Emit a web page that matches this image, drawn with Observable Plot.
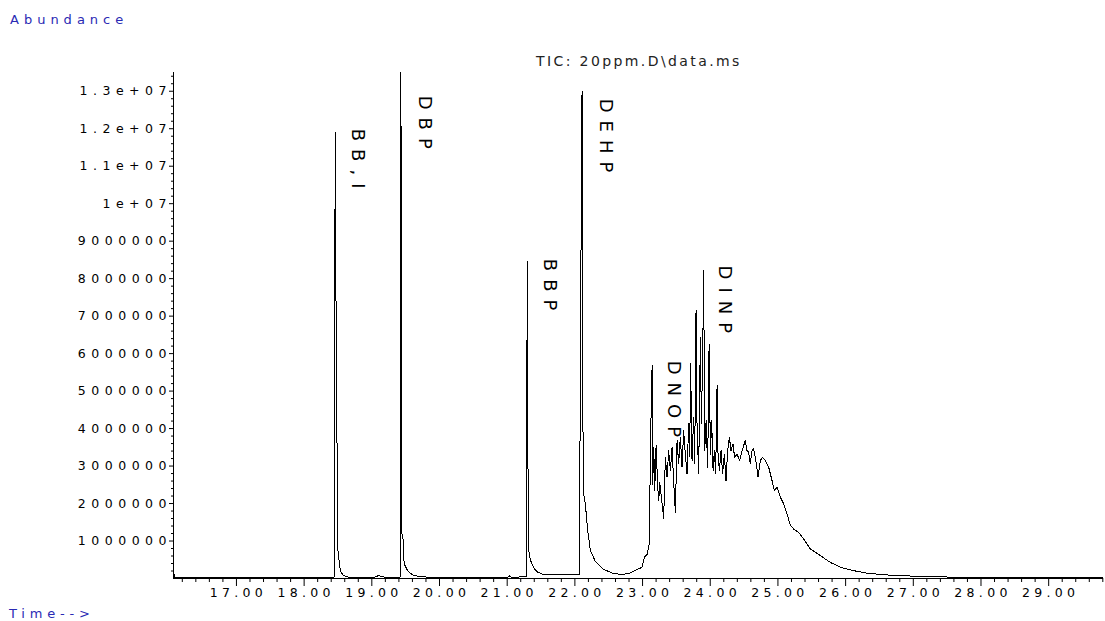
<!DOCTYPE html>
<html>
<head>
<meta charset="utf-8">
<script src="https://cdn.jsdelivr.net/npm/d3@7"></script>
<script src="https://cdn.jsdelivr.net/npm/@observablehq/plot@0.6"></script>
<style>
html, body { margin: 0; padding: 0; background: #fff; }
#wrap { position: relative; width: 1105px; height: 621px; overflow: hidden; background: #fff; }
#wrap svg { position: absolute; left: 0; top: 0; }
.lbl { position: absolute; font-family: "DejaVu Sans", sans-serif; white-space: pre; line-height: 1; }
#abund { left: 10px; top: 13px; font-size: 13px; letter-spacing: 5px; color: #2a2ab4; }
#time { left: 9px; top: 607px; font-size: 13px; letter-spacing: 4.8px; color: #2a2ab4; }
#title { left: 536px; top: 54px; font-size: 14px; letter-spacing: 2.4px; color: #222; }
#wrap svg g[aria-label="x-axis tick label"] text { letter-spacing: 4.3px; }
#wrap svg g[aria-label="y-axis tick label"] text { letter-spacing: 5.5px; }
#wrap svg g[aria-label="text"] text { letter-spacing: 8px; }
#wrap svg g[aria-label="line"] path { shape-rendering: crispEdges; }
</style>
</head>
<body>
<div id="wrap">
  <div class="lbl" id="abund"></div>
  <div class="lbl" id="title"></div>
  <div class="lbl" id="time"></div>
</div>
<script>
// ---- Data (retention time in minutes, abundance in millions of counts) ----
const times = [
  16.074, 16.09, 17.50, 18.40, 18.448, 18.452, 18.462, 18.473, 18.499, 18.514, 18.536, 18.580, 18.654,
  19.05, 19.10, 19.15, 19.20,
  19.420, 19.424, 19.430, 19.438, 19.460, 19.464, 19.49, 19.53, 19.60, 19.70, 19.90,
  21.00, 21.03, 21.06,
  21.284, 21.291, 21.302, 21.309, 21.316, 21.318, 21.33, 21.36, 21.40, 21.45, 21.52, 21.70, 22.00,
  22.069, 22.072, 22.100, 22.106, 22.115, 22.130, 22.155, 22.189, 22.229, 22.303, 22.421, 22.569, 22.717,
  22.820, 22.894, 22.993, 23.027, 23.067, 23.101,
  23.116, 23.141, 23.150, 23.165, 23.180, 23.200, 23.224, 23.239, 23.254, 23.288, 23.312,
  23.337, 23.362, 23.386, 23.411, 23.436, 23.459, 23.484, 23.510, 23.533, 23.558, 23.583,
  23.607, 23.632, 23.657, 23.681, 23.696, 23.710, 23.731, 23.755, 23.770, 23.790, 23.805,
  23.829, 23.854, 23.869, 23.888, 23.903, 23.918, 23.939, 23.962, 23.983, 24.002, 24.021,
  24.042, 24.061, 24.080, 24.101, 24.115, 24.135, 24.160, 24.183, 24.208, 24.233, 24.257,
  24.282, 24.307, 24.336, 24.360, 24.396, 24.434, 24.470, 24.494, 24.518, 24.543, 24.568,
  24.592, 24.617, 24.642, 24.681, 24.706, 24.740, 24.774, 24.814, 24.863, 24.913, 24.947,
  24.987, 25.036, 25.085, 25.134, 25.183, 25.232, 25.306, 25.380, 25.479, 25.627, 25.774,
  25.922, 26.118, 26.316, 26.513, 26.709, 27.251, 27.990, 29.807
];
const abundanceMillions = [
  0.15, 0.03, 0.03, 0.03, 0.04, 8.3, 11.9, 6.4, 0.75, 0.5, 0.2, 0.08, 0.04,
  0.04, 0.08, 0.05, 0.03,
  0.04, 11.9, 14.2, 1.2, 1.15, 0.56, 0.35, 0.2, 0.1, 0.05, 0.03,
  0.03, 0.07, 0.03,
  0.05, 5.9, 8.45, 1.55, 1.5, 0.75, 0.6, 0.4, 0.26, 0.17, 0.12, 0.1, 0.1,
  0.1, 2.26, 11.9, 13.0, 4.75, 2.26, 1.99, 1.28, 0.75, 0.45, 0.25, 0.13, 0.11,
  0.15, 0.22, 0.3, 0.57, 0.64, 0.93,
  3.5, 5.68, 2.5, 3.5, 2.35, 3.55, 2.43, 2.08, 2.57, 2.0, 1.6,
  3.23, 2.7, 3.41, 2.88, 3.5, 2.61, 1.77, 3.68, 3.06, 3.77, 2.97,
  3.95, 3.32, 2.79, 4.13, 3.24, 5.73, 3.15, 4.3, 3.06, 7.15, 4.04,
  2.79, 6.43, 4.13, 5.9, 8.21, 3.41, 4.21, 2.97, 6.26, 3.32, 4.21,
  2.88, 3.41, 2.79, 5.15, 3.32, 2.88, 3.41, 2.79, 3.32, 2.61, 3.41,
  3.77, 3.41, 3.59, 3.23, 3.32, 3.15, 3.41, 3.55, 3.68, 3.41, 3.37,
  3.06, 3.41, 3.46, 3.06, 2.7, 3.15, 3.23, 3.15, 2.97, 2.61, 2.35,
  2.43, 2.17, 1.99, 1.73, 1.42, 1.32, 1.23, 1.05, 0.79, 0.61, 0.43,
  0.3, 0.21, 0.14, 0.11, 0.08, 0.05, 0.02, 0.02
];

// Peak annotations (label anchored at time / abundance of the label's top)
const peakNames = ["BB,I", "DBP", "BBP", "DEHP", "DNOP", "DINP"];
const labelTimes = [18.787, 19.777, 21.623, 22.451, 23.455, 24.208];
const labelLevelsMillions = [12.0, 12.88, 8.53, 12.8, 5.81, 8.35];

// Axis ticks
const xMajorTicks = [17, 18, 19, 20, 21, 22, 23, 24, 25, 26, 27, 28, 29];
const xTickLabels = ["17.00", "18.00", "19.00", "20.00", "21.00", "22.00", "23.00", "24.00", "25.00", "26.00", "27.00", "28.00", "29.00"];
const yMajorTicks = [1e6, 2e6, 3e6, 4e6, 5e6, 6e6, 7e6, 8e6, 9e6, 1e7, 1.1e7, 1.2e7, 1.3e7];
const yTickLabels = ["1000000", "2000000", "3000000", "4000000", "5000000", "6000000", "7000000", "8000000", "9000000", "1e+07", "1.1e+07", "1.2e+07", "1.3e+07"];

const titleText = "TIC: 20ppm.D\\data.ms";
const yTitle = "Abundance";
const xTitle = "Time-->";

// ---- Build ----
const data = times.map((t, i) => ({t, v: abundanceMillions[i] * 1e6}));
const labels = peakNames.map((name, i) => ({name, t: labelTimes[i], v: labelLevelsMillions[i] * 1e6}));
const xMinorTicks = d3.range(81, 150).filter(i => i % 5 !== 0).map(i => i / 5);
const yMinorTicks = d3.range(1, 68).filter(i => i % 5 !== 0).map(i => i * 2e5);

const xDomain = [16.07, 29.81];

const chart = Plot.plot({
  width: 1105,
  height: 621,
  marginLeft: 173,
  marginRight: 2,
  marginTop: 72,
  marginBottom: 43,
  x: {domain: xDomain},
  y: {domain: [0, 1.35e7]},
  style: {fontFamily: "DejaVu Sans, sans-serif", fontSize: "12.5px", color: "#000", background: "transparent"},
  marks: [
    Plot.axisX({ticks: xMinorTicks, tickSize: 4, tickFormat: () => "", label: null}),
    Plot.axisX({ticks: xMajorTicks, tickSize: 8, tickFormat: () => "", label: null}),
    Plot.axisX({ticks: xMajorTicks, tickSize: 0, tickPadding: 10, dx: 2,
      tickFormat: d => xTickLabels[xMajorTicks.indexOf(d)], label: null}),
    Plot.axisY({ticks: yMinorTicks, tickSize: 2, tickFormat: () => "", label: null}),
    Plot.axisY({ticks: yMajorTicks, tickSize: 4, tickPadding: -2.5,
      tickFormat: d => yTickLabels[yMajorTicks.indexOf(d)], label: null}),
    Plot.ruleY([0], {stroke: "#000"}),
    Plot.ruleX([xDomain[0]], {stroke: "#000"}),
    Plot.line(data, {x: "t", y: "v", stroke: "#000", strokeWidth: 1, clip: true}),
    Plot.text(labels, {x: "t", y: "v", text: "name", rotate: 90, textAnchor: "start",
      fontSize: 18, fill: "#000", fontFamily: "DejaVu Sans, sans-serif"})
  ]
});

document.getElementById("wrap").appendChild(chart);
document.getElementById("abund").textContent = yTitle;
document.getElementById("time").textContent = xTitle;
document.getElementById("title").textContent = titleText;
</script>
</body>
</html>
